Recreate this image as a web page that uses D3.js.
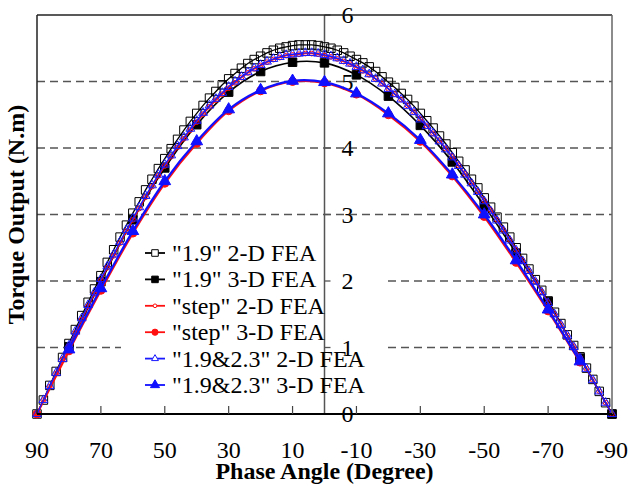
<!DOCTYPE html>
<html>
<head>
<meta charset="utf-8">
<script src="https://cdn.jsdelivr.net/npm/d3@7"></script>
<style>
  html, body { margin: 0; padding: 0; background: #fff; }
  #chart { width: 630px; height: 486px; }
</style>
</head>
<body>
<div id="chart"></div>
<script>
// phase angles of the 2-D runs (every 2 degrees)
const angles2D = [90, 88, 86, 84, 82, 80, 78, 76, 74, 72, 70, 68, 66, 64, 62, 60, 58, 56, 54, 52,
  50, 48, 46, 44, 42, 40, 38, 36, 34, 32, 30, 28, 26, 24, 22, 20, 18, 16, 14, 12, 10, 8, 6, 4, 2,
  0, -2, -4, -6, -8, -10, -12, -14, -16, -18, -20, -22, -24, -26, -28, -30, -32, -34, -36, -38, -40,
  -42, -44, -46, -48, -50, -52, -54, -56, -58, -60, -62, -64, -66, -68, -70, -72, -74, -76, -78, -80,
  -82, -84, -86, -88, -90];

const fea19_2D = [0, 0.21, 0.43, 0.64, 0.85, 1.06, 1.27, 1.48, 1.68, 1.88, 2.08, 2.28, 2.47, 2.66, 2.84,
  3.02, 3.19, 3.37, 3.53, 3.69, 3.84, 3.99, 4.13, 4.27, 4.40, 4.52, 4.64, 4.75, 4.85, 4.95, 5.04, 5.12,
  5.20, 5.27, 5.33, 5.38, 5.43, 5.47, 5.50, 5.52, 5.54, 5.55, 5.55, 5.55, 5.54, 5.52, 5.50, 5.47, 5.43,
  5.38, 5.33, 5.28, 5.22, 5.15, 5.07, 4.99, 4.91, 4.82, 4.73, 4.63, 4.52, 4.41, 4.30, 4.18, 4.06, 3.93,
  3.80, 3.67, 3.53, 3.40, 3.25, 3.11, 2.96, 2.81, 2.66, 2.50, 2.34, 2.18, 2.02, 1.86, 1.70, 1.53, 1.36,
  1.19, 1.03, 0.86, 0.69, 0.52, 0.34, 0.17, 0];

const feaStep_2D = [0, 0.21, 0.41, 0.61, 0.82, 1.02, 1.22, 1.42, 1.62, 1.81, 2.01, 2.20, 2.38, 2.57, 2.75,
  2.92, 3.09, 3.26, 3.42, 3.58, 3.73, 3.87, 4.01, 4.14, 4.27, 4.39, 4.51, 4.62, 4.72, 4.81, 4.90, 4.98,
  5.06, 5.13, 5.19, 5.24, 5.29, 5.33, 5.36, 5.39, 5.40, 5.41, 5.42, 5.42, 5.41, 5.39, 5.37, 5.34, 5.30,
  5.26, 5.21, 5.16, 5.10, 5.04, 4.97, 4.89, 4.81, 4.73, 4.64, 4.54, 4.44, 4.33, 4.22, 4.11, 3.99, 3.87,
  3.74, 3.61, 3.48, 3.35, 3.21, 3.07, 2.92, 2.77, 2.62, 2.47, 2.31, 2.16, 2.00, 1.84, 1.68, 1.51, 1.35,
  1.18, 1.02, 0.85, 0.68, 0.51, 0.34, 0.17, 0];

const fea1923_2D = [0, 0.21, 0.42, 0.62, 0.83, 1.03, 1.24, 1.44, 1.64, 1.83, 2.03, 2.22, 2.40, 2.59, 2.77,
  2.94, 3.11, 3.28, 3.44, 3.60, 3.75, 3.89, 4.03, 4.16, 4.29, 4.41, 4.53, 4.64, 4.74, 4.83, 4.92, 5.00,
  5.07, 5.14, 5.20, 5.25, 5.30, 5.34, 5.37, 5.40, 5.41, 5.42, 5.43, 5.43, 5.42, 5.40, 5.38, 5.35, 5.31,
  5.27, 5.22, 5.17, 5.11, 5.04, 4.97, 4.89, 4.81, 4.73, 4.63, 4.54, 4.43, 4.33, 4.22, 4.10, 3.98, 3.86,
  3.73, 3.60, 3.47, 3.34, 3.20, 3.05, 2.91, 2.76, 2.61, 2.46, 2.30, 2.15, 1.99, 1.83, 1.67, 1.50, 1.34,
  1.18, 1.01, 0.84, 0.68, 0.51, 0.34, 0.17, 0];

// 3-D runs (every 10 degrees)
const angles19_3D = [80, 70, 60, 50, 40, 30, 20, 10, 0, -10, -20, -30, -40, -50, -60, -70, -80, -90];
const fea19_3D = [1.01, 1.99, 2.92, 3.70, 4.35, 4.84, 5.15, 5.29, 5.28, 5.10, 4.78, 4.34, 3.79, 3.13,
  2.42, 1.69, 0.84, 0];

const anglesStep_3D = [90, 80, 70, 60, 50, 40, 30, 20, 10, 0, -10, -20, -30, -40, -50, -60, -70, -80];
const feaStep_3D = [0, 0.95, 1.86, 2.72, 3.47, 4.07, 4.56, 4.86, 5.00, 4.98, 4.81, 4.50, 4.10, 3.58,
  2.97, 2.28, 1.55, 0.78];

const angles1923_3D = [80, 70, 60, 50, 40, 30, 20, 10, 0, -10, -20, -30, -40, -50, -60, -70, -80];
const fea1923_3D = [0.97, 1.89, 2.75, 3.50, 4.10, 4.58, 4.87, 5.01, 4.99, 4.82, 4.52, 4.12, 3.60,
  3.00, 2.31, 1.57, 0.79];

const xTicks = [90, 70, 50, 30, 10, -10, -30, -50, -70, -90];
const yTicks = [0, 1, 2, 3, 4, 5, 6];

const legendLabels = ['"1.9" 2-D FEA', '"1.9" 3-D FEA', '"step" 2-D FEA', '"step" 3-D FEA',
  '"1.9&2.3" 2-D FEA', '"1.9&2.3" 3-D FEA'];

const FONT = "'Liberation Serif', 'Times New Roman', serif";

const width = 630, height = 486;
const margin = { top: 15, right: 18, bottom: 72, left: 37 };

const svg = d3.select("#chart").append("svg")
  .attr("width", width)
  .attr("height", height)
  .attr("font-family", FONT);

const x = d3.scaleLinear().domain([90, -90]).range([margin.left, width - margin.right]);
const y = d3.scaleLinear().domain([0, 6]).range([height - margin.bottom, margin.top]);

// dashed grid lines
svg.append("g")
  .selectAll("line")
  .data(yTicks.filter(d => d > 0 && d < 6))
  .join("line")
  .attr("x1", x(90)).attr("x2", x(-90))
  .attr("y1", d => y(d)).attr("y2", d => y(d))
  .attr("stroke", "#555")
  .attr("stroke-width", 1.3)
  .attr("stroke-dasharray", "8,5");

// series definitions
const series = [
  { name: legendLabels[0], angles: angles2D, values: fea19_2D, color: "#000", width: 1.3,
    symbol: d3.symbolSquare, size: 72, fill: "none", curve: d3.curveLinear },
  { name: legendLabels[1], angles: angles19_3D, values: fea19_3D, color: "#000", width: 1.6,
    symbol: d3.symbolSquare, size: 72, fill: "#000", curve: d3.curveCatmullRom },
  { name: legendLabels[2], angles: angles2D, values: feaStep_2D, color: "#ff1010", width: 1.6,
    symbol: d3.symbolCircle, size: 18, fill: "none", curve: d3.curveLinear },
  { name: legendLabels[3], angles: anglesStep_3D, values: feaStep_3D, color: "#ff1010", width: 2.2,
    symbol: d3.symbolCircle, size: 50, fill: "#ff1010", curve: d3.curveCatmullRom },
  { name: legendLabels[4], angles: angles2D, values: fea1923_2D, color: "#1a1aff", width: 1.4,
    symbol: d3.symbolTriangle, size: 34, fill: "none", curve: d3.curveLinear },
  { name: legendLabels[5], angles: angles1923_3D, values: fea1923_3D, color: "#1010ff", width: 2.2,
    symbol: d3.symbolTriangle, size: 60, fill: "#1010ff", curve: d3.curveCatmullRom }
];

// white legend box (hides the grid behind it)
svg.append("rect")
  .attr("x", 121).attr("y", 240)
  .attr("width", 267).attr("height", 158)
  .attr("fill", "#fff");

// vertical axis at phase 0
svg.append("line")
  .attr("x1", x(0)).attr("x2", x(0))
  .attr("y1", y(6)).attr("y2", y(0))
  .attr("stroke", "#555")
  .attr("stroke-width", 1.5);

// y ticks (to the right of the axis)
svg.append("g")
  .selectAll("line")
  .data(yTicks)
  .join("line")
  .attr("x1", x(0)).attr("x2", x(0) + 6)
  .attr("y1", d => y(d)).attr("y2", d => y(d))
  .attr("stroke", "#555")
  .attr("stroke-width", 1.3);

svg.append("g")
  .selectAll("text")
  .data(yTicks)
  .join("text")
  .attr("x", x(0) + 23)
  .attr("y", d => y(d) + 8)
  .attr("text-anchor", "middle")
  .attr("font-family", FONT)
  .style("font-size", "24px")
  .text(d => d);

// draw curves
series.forEach(s => {
  const pts = s.angles.map((a, i) => [a, s.values[i]]);
  const line = d3.line()
    .x(d => x(d[0]))
    .y(d => y(d[1]))
    .curve(s.curve);

  svg.append("path")
    .datum(pts)
    .attr("d", line)
    .attr("fill", "none")
    .attr("stroke", s.color)
    .attr("stroke-width", s.width);

  svg.append("g")
    .selectAll("path")
    .data(pts)
    .join("path")
    .attr("transform", d => `translate(${x(d[0])},${y(d[1])})`)
    .attr("d", d3.symbol().type(s.symbol).size(s.size))
    .attr("fill", s.fill)
    .attr("stroke", s.color)
    .attr("stroke-width", 1);
});

// frame
svg.append("line")
  .attr("x1", x(90)).attr("x2", x(-90))
  .attr("y1", y(6)).attr("y2", y(6))
  .attr("stroke", "#222").attr("stroke-width", 1.5);
svg.append("line")
  .attr("x1", x(90)).attr("x2", x(90))
  .attr("y1", y(6)).attr("y2", y(0))
  .attr("stroke", "#222").attr("stroke-width", 1.5);
svg.append("line")
  .attr("x1", x(-90)).attr("x2", x(-90))
  .attr("y1", y(6)).attr("y2", y(0))
  .attr("stroke", "#666").attr("stroke-width", 1.5);

// bottom axis with ticks pointing up
svg.append("line")
  .attr("x1", x(90)).attr("x2", x(-90))
  .attr("y1", y(0)).attr("y2", y(0))
  .attr("stroke", "#000").attr("stroke-width", 2);

svg.append("g")
  .selectAll("line")
  .data(xTicks.filter(d => Math.abs(d) < 90))
  .join("line")
  .attr("x1", d => x(d)).attr("x2", d => x(d))
  .attr("y1", y(0)).attr("y2", y(0) - 8)
  .attr("stroke", "#444").attr("stroke-width", 1.2);

svg.append("g")
  .selectAll("text")
  .data(xTicks)
  .join("text")
  .attr("x", d => x(d))
  .attr("y", y(0) + 44)
  .attr("text-anchor", "middle")
  .attr("font-family", FONT)
  .style("font-size", "24px")
  .text(d => d);

// axis titles
svg.append("text")
  .attr("x", x(0))
  .attr("y", 479)
  .attr("text-anchor", "middle")
  .attr("font-family", FONT)
  .style("font-size", "24px")
  .style("font-weight", "bold")
  .text("Phase Angle (Degree)");

svg.append("text")
  .attr("transform", "rotate(-90)")
  .attr("x", -(y(0) + y(6)) / 2)
  .attr("y", 24)
  .attr("text-anchor", "middle")
  .attr("font-family", FONT)
  .style("font-size", "24px")
  .style("font-weight", "bold")
  .text("Torque Output (N.m)");

// legend
const legend = svg.append("g").attr("transform", "translate(145,253)");
series.forEach((s, i) => {
  const row = legend.append("g").attr("transform", `translate(0,${i * 26.4})`);
  row.append("line")
    .attr("x1", 0).attr("x2", 20)
    .attr("y1", 0).attr("y2", 0)
    .attr("stroke", s.color)
    .attr("stroke-width", 1.8);
  row.append("path")
    .attr("transform", "translate(10,0)")
    .attr("d", d3.symbol().type(s.symbol).size(s.size * 0.6))
    .attr("fill", s.fill === "none" ? "#fff" : s.fill)
    .attr("stroke", s.color)
    .attr("stroke-width", 1);
  row.append("text")
    .attr("x", 27)
    .attr("y", 8)
    .attr("font-family", FONT)
    .style("font-size", "24px")
    .text(s.name);
});
</script>
</body>
</html>
